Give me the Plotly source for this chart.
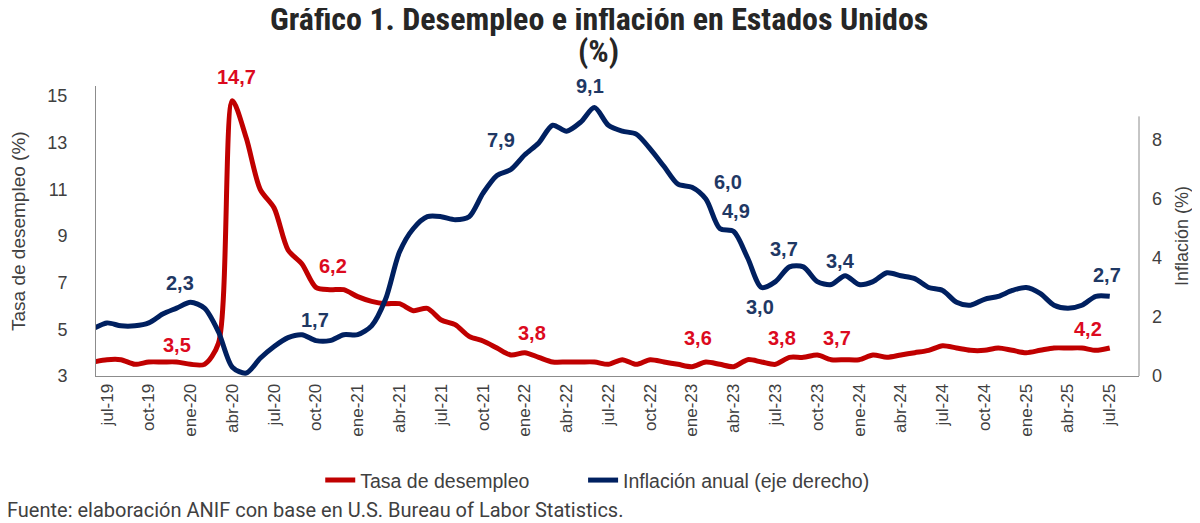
import plotly.graph_objects as go

# --- datos -----------------------------------------------------------------
MESES = ["ene", "feb", "mar", "abr", "may", "jun", "jul", "ago", "sep", "oct", "nov", "dic"]
periodos = [f"{m}-{a:02d}" for a in range(19, 26) for m in MESES][5:79]  # jun-19 ... jul-25

desempleo = (
    [3.6, 3.7, 3.7, 3.5, 3.6, 3.6, 3.6]  # 2019 (jun-dic)
    + [3.5, 3.5, 4.4, 14.8, 13.2, 11.0, 10.2, 8.4, 7.8, 6.8, 6.7, 6.7]  # 2020
    + [6.4, 6.2, 6.1, 6.1, 5.8, 5.9, 5.4, 5.2, 4.7, 4.5, 4.2, 3.9]  # 2021
    + [4.0, 3.8, 3.6, 3.6, 3.6, 3.6, 3.5, 3.7, 3.5, 3.7, 3.6, 3.5]  # 2022
    + [3.4, 3.6, 3.5, 3.4, 3.7, 3.6, 3.5, 3.8, 3.8, 3.9, 3.7, 3.7]  # 2023
    + [3.7, 3.9, 3.8, 3.9, 4.0, 4.1, 4.3, 4.2, 4.1, 4.1, 4.2, 4.1]  # 2024
    + [4.0, 4.1, 4.2, 4.2, 4.2, 4.1, 4.2]  # 2025 (ene-jul)
)

inflacion = (
    [1.6, 1.8, 1.7, 1.7, 1.8, 2.1, 2.3]
    + [2.5, 2.3, 1.5, 0.3, 0.1, 0.6, 1.0, 1.3, 1.4, 1.2, 1.2, 1.4]
    + [1.4, 1.7, 2.6, 4.2, 5.0, 5.4, 5.4, 5.3, 5.4, 6.2, 6.8, 7.0]
    + [7.5, 7.9, 8.5, 8.3, 8.6, 9.1, 8.5, 8.3, 8.2, 7.7, 7.1, 6.5]
    + [6.4, 6.0, 5.0, 4.9, 4.0, 3.0, 3.2, 3.7, 3.7, 3.2, 3.1, 3.4]
    + [3.1, 3.2, 3.5, 3.4, 3.3, 3.0, 2.9, 2.5, 2.4, 2.6, 2.7, 2.9]
    + [3.0, 2.8, 2.4, 2.3, 2.4, 2.7, 2.7]
)

etiquetas_x = periodos[1::3]  # jul-19, oct-19, ... jul-25
ticks_izq = [3, 5, 7, 9, 11, 13, 15]
ticks_der = [0, 2, 4, 6, 8]

# etiquetas de datos: (periodo, texto)
rotulos_desempleo = [
    ("dic-19", "3,5"), ("abr-20", "14,7"), ("nov-20", "6,2"), ("ene-22", "3,8"),
    ("feb-23", "3,6"), ("ago-23", "3,8"), ("nov-23", "3,7"), ("may-25", "4,2"),
]
rotulos_inflacion = [
    ("dic-19", "2,3"), ("oct-20", "1,7"), ("feb-22", "7,9"), ("jun-22", "9,1"),
    ("feb-23", "6,0"), ("abr-23", "4,9"), ("jun-23", "3,0"), ("ago-23", "3,7"),
    ("dic-23", "3,4"), ("jul-25", "2,7"),
]

# desplazamientos (px) de cada etiqueta respecto a su punto
desp_desempleo = [(0, 17), (4, 24), (3, 24), (7, 20), (-8, 24), (-7, 19), (6, 22), (6, 19)]
desp_inflacion = [(3, 25), (-1, 21), (-38, 3), (-4, 22), (22, 17), (2, 20), (-2, -19), (-5, 18), (-5, 15), (-3, 21)]

ROJO = "#C00000"
AZUL = "#002060"
ROJO_TXT = "#DC0A1E"
AZUL_TXT = "#1F3864"
GRIS = "#8C8C8C"
TXT = "#404040"
FUENTE = "Liberation Sans"
FUENTE_TIT = "Liberation Sans Narrow, Roboto Condensed, Roboto"

fig = go.Figure()
fig.add_trace(
    go.Scatter(
        x=periodos, y=desempleo, mode="lines", name="Tasa de desempleo", legend="legend",
        line=dict(color=ROJO, width=5, shape="spline", smoothing=0.8),
    )
)
fig.add_trace(
    go.Scatter(
        x=periodos, y=inflacion, mode="lines", name="Inflación anual (eje derecho)", yaxis="y2",
        legend="legend2", line=dict(color=AZUL, width=5, shape="spline", smoothing=0.8),
    )
)

anotaciones = []
serie_d = dict(zip(periodos, desempleo))
serie_i = dict(zip(periodos, inflacion))
for (per, txt), (dx, dy) in zip(rotulos_desempleo, desp_desempleo):
    anotaciones.append(dict(
        x=per, y=serie_d[per], xref="x", yref="y", text=f"<b>{txt}</b>", showarrow=False,
        xshift=dx, yshift=dy, font=dict(family=FUENTE, size=20, color=ROJO_TXT),
    ))
for (per, txt), (dx, dy) in zip(rotulos_inflacion, desp_inflacion):
    anotaciones.append(dict(
        x=per, y=serie_i[per], xref="x", yref="y2", text=f"<b>{txt}</b>", showarrow=False,
        xshift=dx, yshift=dy, font=dict(family=FUENTE, size=20, color=AZUL_TXT),
    ))

# título (dos líneas), títulos de ejes y fuente
anotaciones += [
    dict(x=0.5, y=1, xref="paper", yref="paper", xshift=-19, yshift=67, yanchor="middle",
         text="<b>Gráfico 1. Desempleo e inflación en Estados Unidos</b>", showarrow=False,
         font=dict(family=FUENTE_TIT, size=32, color="#262626")),
    dict(x=0.5, y=1, xref="paper", yref="paper", xshift=-19, yshift=35, yanchor="middle",
         text="<b>(%)</b>", showarrow=False,
         font=dict(family=FUENTE_TIT, size=32, color="#262626")),
    dict(x=0, y=0.5, xref="paper", yref="paper", xshift=-78, xanchor="center", yanchor="middle",
         text="Tasa de desempleo (%)", textangle=-90, showarrow=False,
         font=dict(family=FUENTE, size=19, color=TXT)),
    dict(x=1, y=0.5, xref="paper", yref="paper", xshift=43, yshift=-5, xanchor="center",
         yanchor="middle", text="Inflación (%)", textangle=-90, showarrow=False,
         font=dict(family=FUENTE, size=18, color=TXT)),
    dict(x=0, y=0, xref="paper", yref="paper", xshift=-91, yshift=-134, xanchor="left",
         yanchor="middle", showarrow=False,
         text="Fuente: elaboración ANIF con base en U.S. Bureau of Labor Statistics.",
         font=dict(family="Roboto", size=20, color=TXT)),
]

# la página deja 8 px de margen arriba y a la izquierda
fig.update_layout(
    width=1192,
    height=515,
    autosize=False,
    showlegend=True,
    paper_bgcolor="white",
    plot_bgcolor="white",
    margin=dict(l=88, r=61, t=78, b=147),
    xaxis=dict(
        type="category", range=[0.21, 75.1], tickmode="array", tickvals=etiquetas_x,
        ticktext=etiquetas_x, tickangle=-90, showline=True, linecolor=GRIS, linewidth=1,
        showgrid=False, zeroline=False, ticks="", automargin=False,
        tickfont=dict(family=FUENTE, size=17, color=TXT),
    ),
    yaxis=dict(
        range=[3, 15.43], tickmode="array", tickvals=ticks_izq, showline=True, linecolor=GRIS,
        linewidth=1, showgrid=False, zeroline=False, ticks="", ticklabelstandoff=24,
        automargin=False, tickfont=dict(family=FUENTE, size=18, color=TXT),
    ),
    yaxis2=dict(
        range=[0, 9.83], overlaying="y", side="right", tickmode="array", tickvals=ticks_der,
        showline=False, showgrid=False, zeroline=False, ticks="", ticklabelstandoff=12,
        automargin=False, tickfont=dict(family=FUENTE, size=18, color=TXT),
    ),
    shapes=[
        dict(type="line", xref="paper", x0=1, x1=1, yref="y2", y0=0, y1=8.8,
             line=dict(color=GRIS, width=1)),
    ],
    legend=dict(
        orientation="h", x=0.215, xanchor="left", y=-0.36, yanchor="middle", visible=True,
        font=dict(family=FUENTE, size=19.5, color=TXT),
    ),
    legend2=dict(
        orientation="h", x=0.467, xanchor="left", y=-0.36, yanchor="middle", visible=True,
        font=dict(family=FUENTE, size=19.5, color=TXT),
    ),
    annotations=anotaciones,
)

fig.write_html("out.html")
